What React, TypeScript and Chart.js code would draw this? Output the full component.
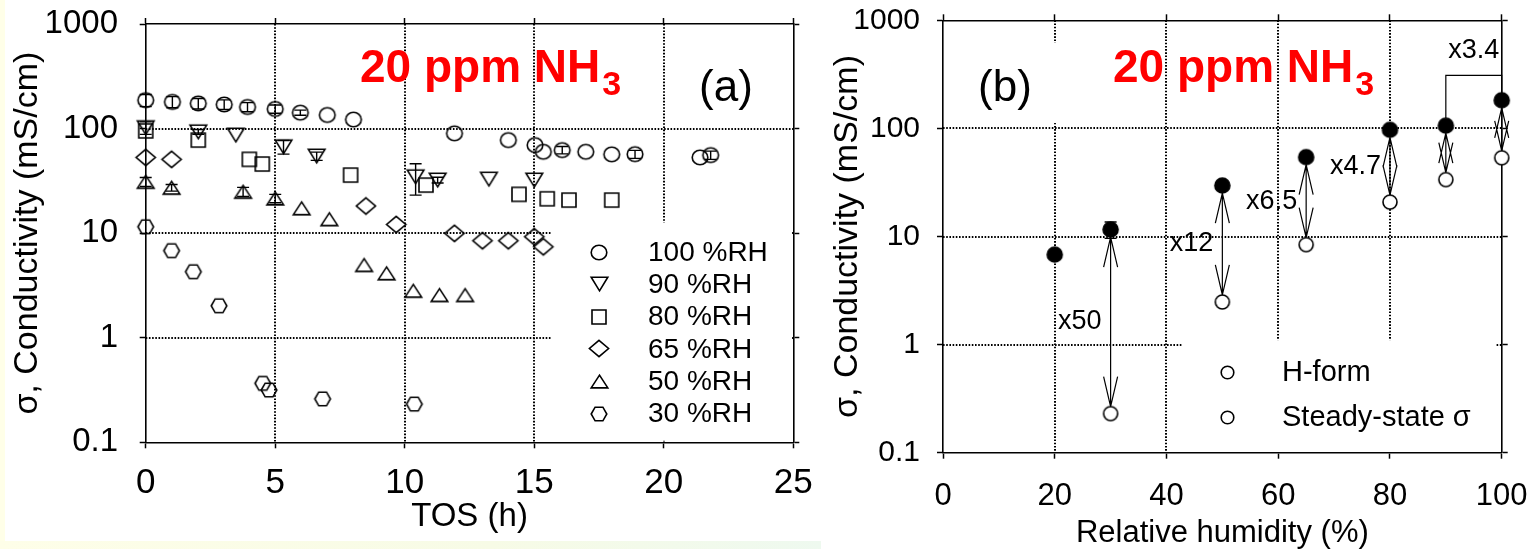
import { useEffect, useRef } from 'react';
import { Chart, registerables } from 'chart.js';

Chart.register(...registerables);

const FONT = "'Liberation Sans', Arial, Helvetica, sans-serif";

// ---------- panel (a): conductivity versus time on stream ----------
const tosTicks = [0, 5, 10, 15, 20, 25];
const tosTickLabels = ['0', '5', '10', '15', '20', '25'];
const sigmaDecades = [0.1, 1, 10, 100, 1000];
const sigmaTickLabels = ['0.1', '1', '10', '100', '1000'];

const rh100Tos = [0, 1.03, 2.03, 3.03, 3.93, 5.0, 5.97, 7.01, 8.02, 11.92, 14.0, 15.03, 15.35, 16.08, 16.99, 17.99, 18.89, 21.4, 21.81];
const rh100Sigma = [187, 180, 174, 170, 161, 154, 142, 135, 122, 90, 77.6, 69.5, 60, 62.3, 60, 56.7, 56.9, 53, 55.8];
const rh100Err = [25, 22, 20, 18, 16, 14, 8, 0, 0, 0, 0, 0, 0, 5, 0, 0, 5, 0, 5];

const rh90Tos = [0, 2.03, 3.48, 5.32, 6.6, 10.42, 11.27, 13.25, 15.0];
const rh90Sigma = [102, 93, 86.7, 67, 54.6, 34.6, 32.2, 32.9, 32.2];
const rh90Err = [14, 5, 0, 10, 5, 11.5, 2, 0, 0];

const rh80Tos = [0, 2.03, 4.0, 4.5, 7.91, 10.82, 14.41, 15.5, 16.34, 17.99];
const rh80Sigma = [95, 77.6, 50.8, 45.8, 35.9, 28.8, 23.5, 21.3, 20.7, 20.7];

const rh65Tos = [0, 1.0, 8.5, 9.67, 11.92, 13.0, 14.0, 15.0, 15.35];
const rh65Sigma = [53, 50.8, 18.2, 12.1, 9.96, 8.46, 8.46, 9.24, 7.41];

const rh50Tos = [0, 1.0, 3.76, 5.0, 6.02, 7.09, 8.43, 9.3, 10.33, 11.34, 12.33];
const rh50Sigma = [31, 27.2, 24.9, 21.5, 17.3, 13.6, 4.96, 4.13, 2.81, 2.56, 2.56];
const rh50Err = [3, 2, 2.5, 2, 0, 0, 0, 0, 0, 0, 0];

const rh30Tos = [0, 1.0, 1.84, 2.83, 4.52, 4.76, 6.83, 10.37];
const rh30Sigma = [11.5, 6.8, 4.28, 2.02, 0.366, 0.316, 0.26, 0.232];

// ---------- panel (b): conductivity versus relative humidity ----------
const rhTicks = [0, 20, 40, 60, 80, 100];
const rhTickLabels = ['0', '20', '40', '60', '80', '100'];
const hFormRh = [20, 30, 50, 65, 80, 90, 100];
const hFormSigma = [6.8, 11.6, 29.6, 54.2, 97, 106, 182];
const hFormErr = [0, 2, 0, 0, 0, 0, 0];
const steadyRh = [30, 50, 65, 80, 90, 100];
const steadySigma = [0.23, 2.48, 8.4, 20.8, 33.6, 53.5];
const ratioLabels = ['x50', 'x12', 'x6.5', 'x4.7', '', ''];
const bracketLabel = 'x3.4';

const titleMain = '20 ppm NH';
const titleSub = '3';

type Shape = 'circle' | 'triUp' | 'triDown' | 'square' | 'diamond' | 'hexagon';

function makeMarker(shape: Shape, rx: number, ry: number, fill: string, lw = 1.6): HTMLCanvasElement {
  const pad = 2;
  const w = Math.ceil(2 * rx + 2 * pad);
  const h = Math.ceil(2 * ry + 2 * pad);
  const c = document.createElement('canvas');
  c.width = w;
  c.height = h;
  const ctx = c.getContext('2d')!;
  const cx = w / 2;
  const cy = h / 2;
  ctx.beginPath();
  switch (shape) {
    case 'circle':
      ctx.ellipse(cx, cy, rx, ry, 0, 0, Math.PI * 2);
      break;
    case 'triUp':
      ctx.moveTo(cx, cy - ry);
      ctx.lineTo(cx + rx, cy + ry);
      ctx.lineTo(cx - rx, cy + ry);
      ctx.closePath();
      break;
    case 'triDown':
      ctx.moveTo(cx, cy + ry);
      ctx.lineTo(cx + rx, cy - ry);
      ctx.lineTo(cx - rx, cy - ry);
      ctx.closePath();
      break;
    case 'square':
      ctx.rect(cx - rx, cy - ry, 2 * rx, 2 * ry);
      break;
    case 'diamond':
      ctx.moveTo(cx, cy - ry);
      ctx.lineTo(cx + rx, cy);
      ctx.lineTo(cx, cy + ry);
      ctx.lineTo(cx - rx, cy);
      ctx.closePath();
      break;
    case 'hexagon':
      ctx.moveTo(cx - rx, cy);
      ctx.lineTo(cx - rx / 2, cy - ry);
      ctx.lineTo(cx + rx / 2, cy - ry);
      ctx.lineTo(cx + rx, cy);
      ctx.lineTo(cx + rx / 2, cy + ry);
      ctx.lineTo(cx - rx / 2, cy + ry);
      ctx.closePath();
      break;
  }
  if (fill) {
    ctx.fillStyle = fill;
    ctx.fill();
  }
  ctx.lineWidth = lw;
  ctx.strokeStyle = '#000';
  ctx.stroke();
  return c;
}

const tickMarks = { drawOnChartArea: false, drawTicks: true, tickLength: 6, tickWidth: 1.5, tickColor: '#000', color: '#000' };
const frame = { display: true, color: '#000', width: 1.6 };

const setTicks = (values: number[]) => (scale: any) => {
  scale.ticks = values.map((v) => ({ value: v }));
};
const fixedSize = (size: number) => (scale: any) => {
  if (scale.isHorizontal()) scale.height = size;
  else scale.width = size;
  scale.paddingLeft = 0;
  scale.paddingRight = 0;
  scale.paddingTop = 0;
  scale.paddingBottom = 0;
};

type Mask = { xMin: number; xMax: number; yMin: number; yMax: number };

// dotted interior grid, with blank areas kept clear behind legends and labels
function dottedGridPlugin(masks: Mask[]) {
  return {
    id: 'dottedGrid',
    beforeDatasetsDraw(chart: any) {
      const { ctx, chartArea: a } = chart;
      const xs = chart.scales.x;
      const ys = chart.scales.y;
      ctx.save();
      ctx.strokeStyle = '#000';
      ctx.lineWidth = 2;
      ctx.setLineDash([1.6, 1.6]);
      ctx.beginPath();
      for (const t of xs.ticks) {
        if (t.value <= xs.min || t.value >= xs.max) continue;
        const px = Math.round(xs.getPixelForValue(t.value));
        ctx.moveTo(px, a.top);
        ctx.lineTo(px, a.bottom);
      }
      for (const t of ys.ticks) {
        if (t.value <= ys.min || t.value >= ys.max) continue;
        const py = Math.round(ys.getPixelForValue(t.value));
        ctx.moveTo(a.left, py);
        ctx.lineTo(a.right, py);
      }
      ctx.stroke();
      ctx.setLineDash([]);
      ctx.fillStyle = '#fff';
      for (const m of masks) {
        const x0 = Math.max(a.left + 1.5, xs.getPixelForValue(m.xMin));
        const x1 = Math.min(a.right - 1.5, xs.getPixelForValue(m.xMax));
        const y0 = Math.max(a.top + 1.5, ys.getPixelForValue(m.yMax));
        const y1 = Math.min(a.bottom - 1.5, ys.getPixelForValue(m.yMin));
        ctx.fillRect(x0, y0, x1 - x0, y1 - y0);
      }
      ctx.restore();
    },
  };
}

const errorBarPlugin = {
  id: 'errorBars',
  afterDatasetsDraw(chart: any) {
    const { ctx } = chart;
    ctx.save();
    ctx.strokeStyle = '#000';
    ctx.lineWidth = 1.4;
    chart.data.datasets.forEach((ds: any, di: number) => {
      if (!ds.errors) return;
      const meta = chart.getDatasetMeta(di);
      const ys = chart.scales[meta.yAxisID];
      ds.data.forEach((p: any, i: number) => {
        const e = ds.errors[i];
        if (!e) return;
        const el = meta.data[i];
        const top = ys.getPixelForValue(p.y + e);
        const bot = ys.getPixelForValue(Math.max(p.y - e, ys.min));
        ctx.beginPath();
        ctx.moveTo(el.x, top);
        ctx.lineTo(el.x, bot);
        ctx.moveTo(el.x - 6, top);
        ctx.lineTo(el.x + 6, top);
        ctx.moveTo(el.x - 6, bot);
        ctx.lineTo(el.x + 6, bot);
        ctx.stroke();
      });
    });
    ctx.restore();
  },
};

type TextItem = { text: string; x: number; y: number; font: string; color?: string; align?: CanvasTextAlign; baseline?: CanvasTextBaseline };
type LegendRow = { marker: HTMLCanvasElement; label: string };

function annotationPlugin(opts: {
  title: { x: number; baseline: number };
  texts: TextItem[];
  legend: { markerX: number; textX: number; y0: number; dy: number; font: string; rows: LegendRow[] };
}) {
  return {
    id: 'annotations',
    afterDraw(chart: any) {
      const { ctx } = chart;
      ctx.save();
      // red heading with subscript
      ctx.fillStyle = '#FF0000';
      ctx.textAlign = 'left';
      ctx.textBaseline = 'alphabetic';
      ctx.font = `bold 46px ${FONT}`;
      ctx.fillText(titleMain, opts.title.x, opts.title.baseline);
      const w = ctx.measureText(titleMain).width;
      ctx.font = `bold 34px ${FONT}`;
      ctx.fillText(titleSub, opts.title.x + w + 2, opts.title.baseline + 13);
      for (const t of opts.texts) {
        ctx.font = t.font;
        ctx.fillStyle = t.color || '#000';
        ctx.textAlign = t.align || 'center';
        ctx.textBaseline = t.baseline || 'middle';
        ctx.fillText(t.text, t.x, t.y);
      }
      const lg = opts.legend;
      ctx.font = lg.font;
      ctx.fillStyle = '#000';
      ctx.textAlign = 'left';
      ctx.textBaseline = 'middle';
      lg.rows.forEach((r, i) => {
        const y = lg.y0 + i * lg.dy;
        ctx.drawImage(r.marker, Math.round(lg.markerX - r.marker.width / 2), Math.round(y - r.marker.height / 2));
        ctx.fillText(r.label, lg.textX, y + 1);
      });
      ctx.restore();
    },
  };
}

const FILLED_R = 7.5;
const OPEN_R = 7;

function ratioArrowPlugin(bracket: { from: number; to: number; level: number }) {
  return {
    id: 'ratioArrows',
    beforeDatasetsDraw(chart: any) {
      const { ctx } = chart;
      const xs = chart.scales.x;
      const ys = chart.scales.y;
      const upper = chart.data.datasets[0].data as { x: number; y: number }[];
      const lower = chart.data.datasets[1].data as { x: number; y: number }[];
      ctx.save();
      ctx.strokeStyle = '#000';
      ctx.fillStyle = '#000';
      ctx.lineWidth = 1.2;
      ctx.font = `27px ${FONT}`;
      lower.forEach((p, j) => {
        const q = upper.find((d) => d.x === p.x);
        if (!q) return;
        const px = xs.getPixelForValue(p.x);
        const yTop = ys.getPixelForValue(q.y) + FILLED_R;
        const yBot = ys.getPixelForValue(p.y) - OPEN_R;
        ctx.beginPath();
        ctx.moveTo(px, yTop);
        ctx.lineTo(px, yBot);
        ctx.moveTo(px - 7, yTop + 30);
        ctx.lineTo(px, yTop);
        ctx.lineTo(px + 7, yTop + 30);
        ctx.moveTo(px - 7, yBot - 30);
        ctx.lineTo(px, yBot);
        ctx.lineTo(px + 7, yBot - 30);
        ctx.stroke();
        if (ratioLabels[j]) {
          ctx.textAlign = 'right';
          ctx.textBaseline = 'middle';
          ctx.fillText(ratioLabels[j], px - 9, (yTop + yBot) / 2);
        }
      });
      // bracket joining the two highest-humidity points
      const qa = upper.find((d) => d.x === bracket.from)!;
      const qb = upper.find((d) => d.x === bracket.to)!;
      const x0 = xs.getPixelForValue(bracket.from);
      const x1 = xs.getPixelForValue(bracket.to);
      const yl = ys.getPixelForValue(bracket.level);
      ctx.beginPath();
      ctx.moveTo(x0, ys.getPixelForValue(qa.y) - FILLED_R);
      ctx.lineTo(x0, yl);
      ctx.lineTo(x1, yl);
      ctx.lineTo(x1, ys.getPixelForValue(qb.y) - FILLED_R);
      ctx.stroke();
      ctx.textAlign = 'center';
      ctx.textBaseline = 'alphabetic';
      ctx.fillText(bracketLabel, (x0 + x1) / 2, yl - 17);
      ctx.restore();
    },
  };
}

function buildPanelA(): any {
  const series = [
    { label: '100 %RH', x: rh100Tos, y: rh100Sigma, err: rh100Err, marker: makeMarker('circle', 7.8, 7.2, '') },
    { label: '90 %RH', x: rh90Tos, y: rh90Sigma, err: rh90Err, marker: makeMarker('triDown', 8.3, 6.8, '') },
    { label: '80 %RH', x: rh80Tos, y: rh80Sigma, err: null, marker: makeMarker('square', 7, 7, '') },
    { label: '65 %RH', x: rh65Tos, y: rh65Sigma, err: null, marker: makeMarker('diamond', 9.6, 8.2, '') },
    { label: '50 %RH', x: rh50Tos, y: rh50Sigma, err: rh50Err, marker: makeMarker('triUp', 8.3, 6.4, '') },
    { label: '30 %RH', x: rh30Tos, y: rh30Sigma, err: null, marker: makeMarker('hexagon', 7.8, 6.8, '') },
  ];
  return {
    type: 'scatter',
    data: {
      datasets: series.map((s) => ({
        label: s.label,
        data: s.x.map((x, i) => ({ x, y: s.y[i] })),
        errors: s.err,
        pointStyle: s.marker,
        pointRadius: 8,
        clip: false,
      })),
    },
    options: {
      animation: false,
      responsive: false,
      devicePixelRatio: 1,
      events: [],
      layout: { padding: 0 },
      plugins: { legend: { display: false }, tooltip: { enabled: false } },
      scales: {
        x: {
          type: 'linear', position: 'bottom', min: 0, max: 25,
          afterBuildTicks: setTicks(tosTicks),
          ticks: { color: '#000', font: { family: FONT, size: 35 }, padding: 14, autoSkip: false, maxRotation: 0, callback: (_v: any, i: number) => tosTickLabels[i] },
          grid: tickMarks, border: frame,
          title: { display: true, text: 'TOS (h)', color: '#000', font: { family: FONT, size: 33 }, padding: { top: 0, bottom: 23 } },
          afterFit: fixedSize(117.7),
        },
        xTop: {
          type: 'linear', position: 'top', min: 0, max: 25,
          afterBuildTicks: setTicks(tosTicks),
          ticks: { display: false }, grid: tickMarks, border: frame,
          afterFit: fixedSize(24),
        },
        y: {
          type: 'logarithmic', position: 'left', min: 0.1, max: 1000,
          afterBuildTicks: setTicks(sigmaDecades),
          ticks: { color: '#000', font: { family: FONT, size: 33 }, padding: 21.7, autoSkip: false, callback: (_v: any, i: number) => sigmaTickLabels[i] },
          grid: tickMarks, border: frame,
          title: { display: true, text: 'σ, Conductivity (mS/cm)', color: '#000', font: { family: FONT, size: 34 }, padding: { top: 7.6, bottom: 0 } },
          afterFit: fixedSize(145.7),
        },
        yRight: {
          type: 'logarithmic', position: 'right', min: 0.1, max: 1000,
          afterBuildTicks: setTicks(sigmaDecades),
          ticks: { display: false }, grid: tickMarks, border: frame,
          afterFit: fixedSize(26.7),
        },
      },
    },
    plugins: [
      dottedGridPlugin([{ xMin: 15.65, xMax: 25, yMin: 0.1, yMax: 12.6 }]),
      errorBarPlugin,
      annotationPlugin({
        title: { x: 360, baseline: 82 },
        texts: [{ text: '(a)', x: 726, y: 89, font: `44px ${FONT}` }],
        legend: {
          markerX: 599, textX: 648, y0: 252, dy: 32.3, font: `28px ${FONT}`,
          rows: series.map((s) => ({ marker: s.marker, label: s.label })),
        },
      }),
    ],
  };
}

function buildPanelB(): any {
  const filled = makeMarker('circle', FILLED_R, FILLED_R, '#000');
  const open = makeMarker('circle', OPEN_R, OPEN_R, '#fff');
  const legendMarker = makeMarker('circle', 6.3, 6.3, '#fff');
  return {
    type: 'scatter',
    data: {
      datasets: [
        { label: 'H-form', data: hFormRh.map((x, i) => ({ x, y: hFormSigma[i] })), errors: hFormErr, pointStyle: filled, pointRadius: 8, clip: false },
        { label: 'Steady-state σ', data: steadyRh.map((x, i) => ({ x, y: steadySigma[i] })), pointStyle: open, pointRadius: 8, clip: false },
      ],
    },
    options: {
      animation: false,
      responsive: false,
      devicePixelRatio: 1,
      events: [],
      layout: { padding: 0 },
      plugins: { legend: { display: false }, tooltip: { enabled: false } },
      scales: {
        x: {
          type: 'linear', position: 'bottom', min: 0, max: 100,
          afterBuildTicks: setTicks(rhTicks),
          ticks: { color: '#000', font: { family: FONT, size: 31 }, padding: 19, autoSkip: false, maxRotation: 0, callback: (_v: any, i: number) => rhTickLabels[i] },
          grid: tickMarks, border: frame,
          title: { display: true, text: 'Relative humidity (%)', color: '#000', font: { family: FONT, size: 31 }, padding: { top: 0, bottom: 8.4 } },
          afterFit: fixedSize(107.3),
        },
        xTop: {
          type: 'linear', position: 'top', min: 0, max: 100,
          afterBuildTicks: setTicks(rhTicks),
          ticks: { display: false }, grid: tickMarks, border: frame,
          afterFit: fixedSize(20.3),
        },
        y: {
          type: 'logarithmic', position: 'left', min: 0.1, max: 1000,
          afterBuildTicks: setTicks(sigmaDecades),
          ticks: { color: '#000', font: { family: FONT, size: 30 }, padding: 17, autoSkip: false, callback: (_v: any, i: number) => sigmaTickLabels[i] },
          grid: tickMarks, border: frame,
          title: { display: true, text: 'σ, Conductivity (mS/cm)', color: '#000', font: { family: FONT, size: 34 }, padding: { top: 7.6, bottom: 0 } },
          afterFit: fixedSize(123),
        },
        yRight: {
          type: 'logarithmic', position: 'right', min: 0.1, max: 1000,
          afterBuildTicks: setTicks(sigmaDecades),
          ticks: { display: false }, grid: tickMarks, border: frame,
          afterFit: fixedSize(31.3),
        },
      },
    },
    plugins: [
      dottedGridPlugin([
        { xMin: 5.7, xMax: 21.8, yMin: 112, yMax: 617 },
        { xMin: 42.8, xMax: 98.8, yMin: 0.1, yMax: 1.1 },
      ]),
      ratioArrowPlugin({ from: 90, to: 100, level: 310 }),
      errorBarPlugin,
      annotationPlugin({
        title: { x: 293, baseline: 82 },
        texts: [{ text: '(b)', x: 185, y: 89, font: `44px ${FONT}` }],
        legend: {
          markerX: 407, textX: 462, y0: 372, dy: 45, font: `29px ${FONT}`,
          rows: [
            { marker: legendMarker, label: 'H-form' },
            { marker: legendMarker, label: 'Steady-state σ' },
          ],
        },
      }),
    ],
  };
}

export default function App() {
  const leftRef = useRef<HTMLCanvasElement>(null);
  const rightRef = useRef<HTMLCanvasElement>(null);

  useEffect(() => {
    const a = new Chart(leftRef.current!, buildPanelA());
    const b = new Chart(rightRef.current!, buildPanelB());
    return () => {
      a.destroy();
      b.destroy();
    };
  }, []);

  return (
    <div style={{ position: 'fixed', left: 0, top: 0, width: 1533, height: 549, overflow: 'hidden', background: '#fff' }}>
      <div style={{ position: 'absolute', left: 0, top: 0, width: 5, height: 549, background: '#FFFFE8' }} />
      <div
        style={{
          position: 'absolute', left: 0, top: 541, width: 821, height: 8,
          background: 'linear-gradient(to right, #FEFEE8, #F7FBE6 60%, #EEF9EF)',
        }}
      />
      <canvas ref={leftRef} width={820} height={560} style={{ position: 'absolute', left: 0, top: 0, width: 820, height: 560 }} />
      <canvas ref={rightRef} width={713} height={560} style={{ position: 'absolute', left: 820, top: 0, width: 713, height: 560 }} />
    </div>
  );
}
